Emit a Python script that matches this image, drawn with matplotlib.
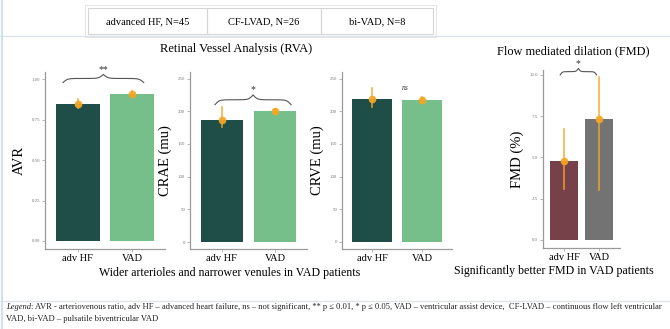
import numpy as np
import matplotlib
matplotlib.use("Agg")
from matplotlib import pyplot as plt
from matplotlib.patches import Rectangle

# data
groups = ["adv HF", "VAD"]

avr_mean = [0.85, 0.91]
avr_lo = [0.82, 0.90]
avr_hi = [0.88, 0.93]

crae_mean = [186, 200]
crae_lo = [176, 197]
crae_hi = [206, 203]

crve_mean = [219, 217]
crve_lo = [207, 213]
crve_hi = [235, 222]

fmd_mean = [4.75, 7.35]
fmd_lo = [3.1, 3.0]
fmd_hi = [6.7, 9.9]

header_cells = ["advanced HF, N=45", "CF-LVAD, N=26", "bi-VAD, N=8"]

green_cols = ["#1f4d47", "#76bf8a"]
fmd_cols = ["#764149", "#737373"]
err_col = "#f5a623"
axis_col = "#9a9a9a"
serif = ["Liberation Serif", "DejaVu Serif"]

plt.rcParams["font.family"] = serif

W, H = 670, 329
fig = plt.figure(figsize=(W / 100, H / 100), dpi=100)
fig.patch.set_facecolor("white")

# full-figure axes in pixel units for frames and captions
bg = fig.add_axes([0, 0, 1, 1])
bg.set_xlim(0, W)
bg.set_ylim(H, 0)
bg.axis("off")


def px_axes(left, top, right, bottom):
    return fig.add_axes([left / W, 1 - bottom / H, (right - left) / W, (bottom - top) / H])


def brace(ax, x0, x1, y, h, label, fs=7):
    t = np.linspace(0, 1, 80)
    b = 18.0
    half = 1 / (1 + np.exp(-b * t)) + 1 / (1 + np.exp(-b * (t - 1))) - 0.5
    yy = np.concatenate([half, half[-2::-1]])
    xx = np.linspace(x0, x1, len(yy))
    ax.plot(xx, y + yy * h, color="#555555", lw=0.8, clip_on=False)
    ax.text((x0 + x1) / 2, y + h * 1.05, label, ha="center", va="bottom",
            fontsize=fs, color="#333333", clip_on=False)


def bar_panel(ax, means, lo, hi, cols, ylabel, ylim, yticks, ytl):
    x = np.arange(len(groups))
    ax.bar(x, means, width=0.8, color=cols)
    for i in x:
        ax.plot([i, i], [lo[i], hi[i]], color=err_col, lw=1.2, alpha=0.85)
    ax.plot(x, means, "o", color=err_col, ms=4.5, alpha=0.9)
    ax.set_xlim(-0.6, 1.6)
    ax.set_ylim(*ylim)
    ax.set_xticks(x)
    ax.set_xticklabels(groups, fontsize=7.5)
    ax.set_yticks(yticks)
    ax.set_yticklabels(ytl, fontsize=3.5, color="#777777")
    ax.set_ylabel(ylabel, fontsize=10.5, labelpad=4)
    for s in ["top", "right"]:
        ax.spines[s].set_visible(False)
    for s in ["left", "bottom"]:
        ax.spines[s].set_color(axis_col)
        ax.spines[s].set_linewidth(0.9)
    ax.tick_params(axis="both", length=2, width=0.5, color=axis_col, pad=1.5)
    ax.set_facecolor("none")


# frames
bg.plot([0, W], [36, 36], color="#dfe4ea", lw=1)
bg.plot([2, 2], [0, H], color="#cfe0f0", lw=1.5)
bg.plot([0, W], [301, 301], color="#dfe4ea", lw=1)

# header table
cx = [88, 207, 321, 433]
for i, lab in enumerate(header_cells):
    bg.add_patch(Rectangle((cx[i], 8), cx[i + 1] - cx[i], 26, fill=False,
                           ec="#d5d5d5", lw=0.8))
    bg.text((cx[i] + cx[i + 1]) / 2, 21.5, lab, ha="center", va="center", fontsize=7.5)
bg.add_patch(Rectangle((85, 5), 351, 32, fill=False, ec="#e6e6e6", lw=0.8))

# titles and captions
bg.text(236, 49, "Retinal Vessel Analysis (RVA)", ha="center", va="center", fontsize=9)
bg.text(573, 51, "Flow mediated dilation (FMD)", ha="center", va="center", fontsize=8.8)
bg.text(230, 273, "Wider arterioles and narrower venules in VAD patients",
        ha="center", va="center", fontsize=8.6)
bg.text(554, 271, "Significantly better FMD in VAD patients",
        ha="center", va="center", fontsize=8.6)

t1 = bg.text(6, 309, "Legend", style="italic", fontsize=6.1, va="baseline", color="#222222")
bg.annotate(": AVR - arteriovenous ratio, adv HF \u2013 advanced heart failure, ns \u2013 not significant, "
            "** p \u2264 0.01, * p \u2264 0.05, VAD \u2013 ventricular assist device,  "
            "CF-LVAD \u2013 continuous flow left ventricular",
            xy=(1, 0), xycoords=t1, va="bottom", fontsize=6.1, color="#222222")
bg.text(6, 321, "VAD, bi-VAD \u2013 pulsatile biventricular VAD", fontsize=6.1,
        va="baseline", color="#222222")

# AVR
ax1 = px_axes(45, 72, 165, 249)
bar_panel(ax1, avr_mean, avr_lo, avr_hi, green_cols, "AVR", (-0.05, 1.045),
          [0, 0.25, 0.5, 0.75, 1.0], ["0.00", "0.25", "0.50", "0.75", "1.00"])
brace(ax1, -0.27, 1.21, 0.98, 0.05, "**")

# CRAE
ax2 = px_axes(190, 72, 307, 249)
bar_panel(ax2, crae_mean, crae_lo, crae_hi, green_cols, "CRAE (mu)", (-10.7, 260),
          [0, 50, 100, 150, 200, 250], ["0", "50", "100", "150", "200", "250"])
brace(ax2, -0.13, 1.3, 210, 15, "*")

# CRVE
ax3 = px_axes(342, 72, 452, 249)
bar_panel(ax3, crve_mean, crve_lo, crve_hi, green_cols, "CRVE (mu)", (-11, 260),
          [0, 50, 100, 150, 200, 250], ["0", "50", "100", "150", "200", "250"])
ax3.text(0.67, 236, "ns", style="italic", fontsize=5.5, ha="center", va="center", color="#333333")

# FMD
ax4 = px_axes(543, 70, 620, 248)
bar_panel(ax4, fmd_mean, fmd_lo, fmd_hi, fmd_cols, "FMD (%)", (-0.5, 10.3),
          [0, 2.5, 5.0, 7.5, 10.0], ["0.0", "2.5", "5.0", "7.5", "10.0"])
brace(ax4, -0.11, 0.93, 10.0, 0.4, "*")

fig.savefig("out.png", dpi=100)
